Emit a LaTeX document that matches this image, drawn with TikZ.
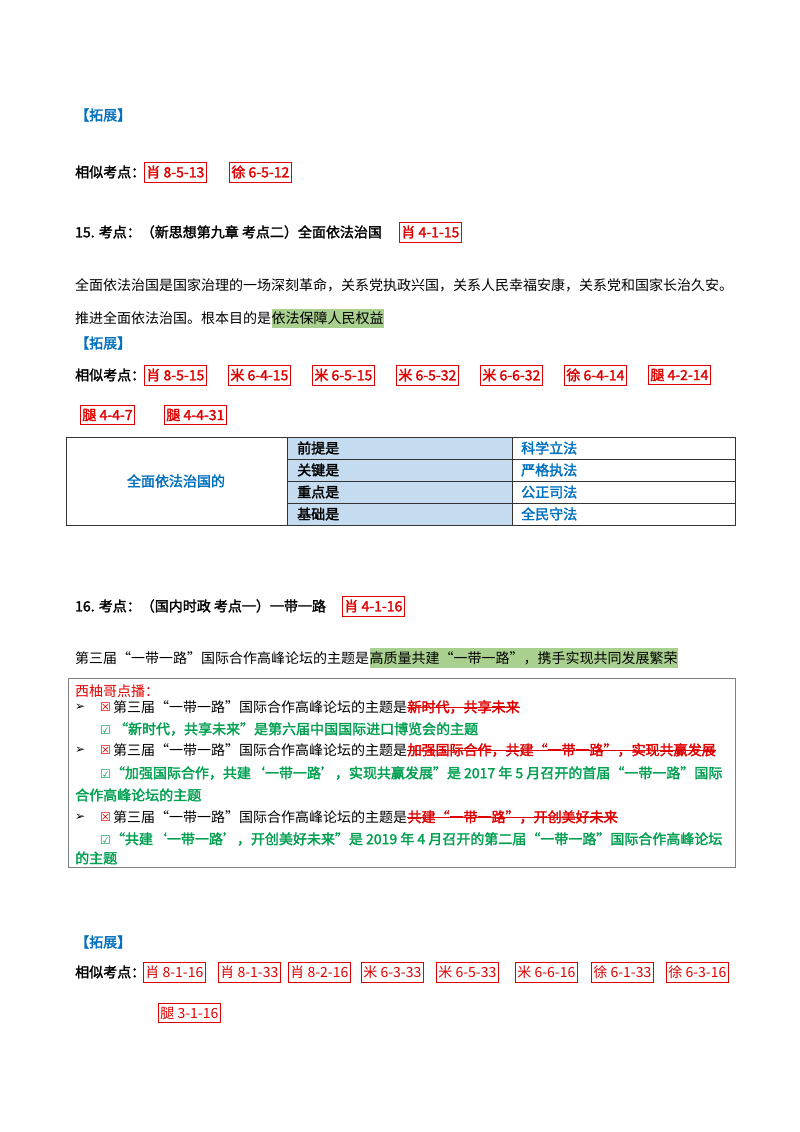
\documentclass[tikz,border=0pt]{standalone}
\usepackage{fontspec}
\newfontfamily\cjk{Noto Sans CJK SC}
\newfontfamily\cjkb[FakeBold=2]{Noto Sans CJK SC}
\newfontfamily\sym{DejaVu Sans}
\definecolor{hblue}{HTML}{0070C0}
\definecolor{hred}{HTML}{E00000}
\definecolor{hgreen}{HTML}{00A050}
\definecolor{hl}{HTML}{A9D08E}
\definecolor{cellblue}{HTML}{C5DCF0}
\begin{document}
\begin{tikzpicture}[x=1pt,y=-1pt,
  tx/.style={anchor=west,inner sep=0pt,font=\fontsize{14}{14}\cjk},
  bx/.style={anchor=west,inner sep=0pt,font=\fontsize{14}{14}\cjkb},
  hlt/.style={anchor=west,inner xsep=0pt,inner ysep=3pt,fill=hl,font=\fontsize{14}{14}\cjk},
  sy/.style={anchor=west,inner sep=0pt,font=\fontsize{12}{12}\sym},
  tag/.style={anchor=west,draw=hred,line width=0.8pt,inner xsep=2pt,inner ysep=3.5pt,text=hred,font=\fontsize{14}{14}\cjkb},
  tagl/.style={tag,font=\fontsize{14}{14}\cjk},
  cell/.style={draw=black!80,line width=0.6pt}]
\useasboundingbox (0,0) rectangle (800,1132);
\fill[white] (0,0) rectangle (800,1132);
% top
\node[bx,text=hblue] (e1) at (75,115) {【拓展】};
\node[bx] (s1) at (75,172) {相似考点：};
\node[tag] (t1) at (144,172) {肖 8-5-13};
\node[tag] (t2) at (229,172) {徐 6-5-12};
% 15
\node[bx] (h15) at (75,232) {15. 考点：（新思想第九章 考点二）全面依法治国};
\node[tag] (t3) at (399,232) {肖 4-1-15};
\node[tx] (p1) at (75,285) {全面依法治国是国家治理的一场深刻革命，关系党执政兴国，关系人民幸福安康，关系党和国家长治久安。};
\node[tx] (p2) at (75,318) {推进全面依法治国。根本目的是};
\node[hlt] (p2b) at (p2.east) {依法保障人民权益};
\node[bx,text=hblue] (e2) at (75,343) {【拓展】};
\node[bx] (s2) at (75,375) {相似考点：};
\foreach \x/\t [count=\i] in {144/肖 8-5-15,228/米 6-4-15,312/米 6-5-15,396/米 6-5-32,480/米 6-6-32,564/徐 6-4-14,648/腿 4-2-14,80/腿 4-4-7,164/腿 4-4-31}{
  \ifnum\i<8 \node[tag] (u\i) at (\x,375) {\t};\else \node[tag] (u\i) at (\x,415) {\t};\fi}
% table
\fill[cellblue] (287,437) rectangle (512,525);
\draw[cell] (66,437) rectangle (735,525);
\draw[cell] (287,437) -- (287,525) (512,437) -- (512,525);
\foreach \y in {459,481,503} \draw[cell] (287,\y) -- (735,\y);
\node[bx,text=hblue,anchor=center] (c0) at (176,481) {全面依法治国的};
\foreach \y/\a/\b in {448/前提是/科学立法,470/关键是/严格执法,492/重点是/公正司法,514/基础是/全民守法}{
  \node[bx] at (297,\y) {\a};
  \node[bx,text=hblue] at (521,\y) {\b};}
% 16
\node[bx] (h16) at (75,606) {16. 考点：（国内时政 考点一）一带一路};
\node[tag] (t4) at (342,606) {肖 4-1-16};
\node[tx] (p3) at (75,658) {第三届“一带一路”国际合作高峰论坛的主题是};
\node[hlt] (p3b) at (p3.east) {高质量共建“一带一路”，携手实现共同发展繁荣};
% box
\draw[black!50,line width=1pt] (68,678) rectangle (735,867);
\node[tx,text=hred] (x0) at (75,691) {西柚哥点播：};
\node[sy] at (75,707) {➢};
\node[sy,text=hred] at (100,707) {☒};
\node[tx] (r1) at (113,707) {第三届“一带一路”国际合作高峰论坛的主题是};
\node[bx,text=hred] (r1b) at (r1.east) {新时代，共享未来};
\draw[hred,line width=0.8pt] (r1b.west) -- (r1b.east);
\node[bx,text=hgreen] at (100,729) {{\sym\fontsize{12}{12}\selectfont ☑} “新时代，共享未来”是第六届中国国际进口博览会的主题};
\node[sy] at (75,750) {➢};
\node[sy,text=hred] at (100,750) {☒};
\node[tx] (r2) at (113,750) {第三届“一带一路”国际合作高峰论坛的主题是};
\node[bx,text=hred] (r2b) at (r2.east) {加强国际合作，共建“一带一路”，实现共赢发展};
\draw[hred,line width=0.8pt] (r2b.west) -- (r2b.east);
\node[bx,text=hgreen] at (100,773) {{\sym\fontsize{12}{12}\selectfont ☑}“加强国际合作，共建‘一带一路’，实现共赢发展”是 2017 年 5 月召开的首届“一带一路”国际};
\node[bx,text=hgreen] at (75,795) {合作高峰论坛的主题};
\node[sy] at (75,817) {➢};
\node[sy,text=hred] at (100,817) {☒};
\node[tx] (r3) at (113,817) {第三届“一带一路”国际合作高峰论坛的主题是};
\node[bx,text=hred] (r3b) at (r3.east) {共建“一带一路”，开创美好未来};
\draw[hred,line width=0.8pt] (r3b.west) -- (r3b.east);
\node[bx,text=hgreen] at (100,839) {{\sym\fontsize{12}{12}\selectfont ☑}“共建‘一带一路’，开创美好未来”是 2019 年 4 月召开的第二届“一带一路”国际合作高峰论坛};
\node[bx,text=hgreen] at (75,858) {的主题};
% bottom
\node[bx,text=hblue] (e3) at (75,942) {【拓展】};
\node[bx] (s3) at (75,972) {相似考点：};
\foreach \x/\t [count=\i] in {143/肖 8-1-16,218/肖 8-1-33,288/肖 8-2-16,361/米 6-3-33,436/米 6-5-33,515/米 6-6-16,591/徐 6-1-33,666/徐 6-3-16}{
  \node[tagl] (v\i) at (\x,972) {\t};}
\node[tagl] (v9) at (158,1013) {腿 3-1-16};
\end{tikzpicture}
\end{document}
